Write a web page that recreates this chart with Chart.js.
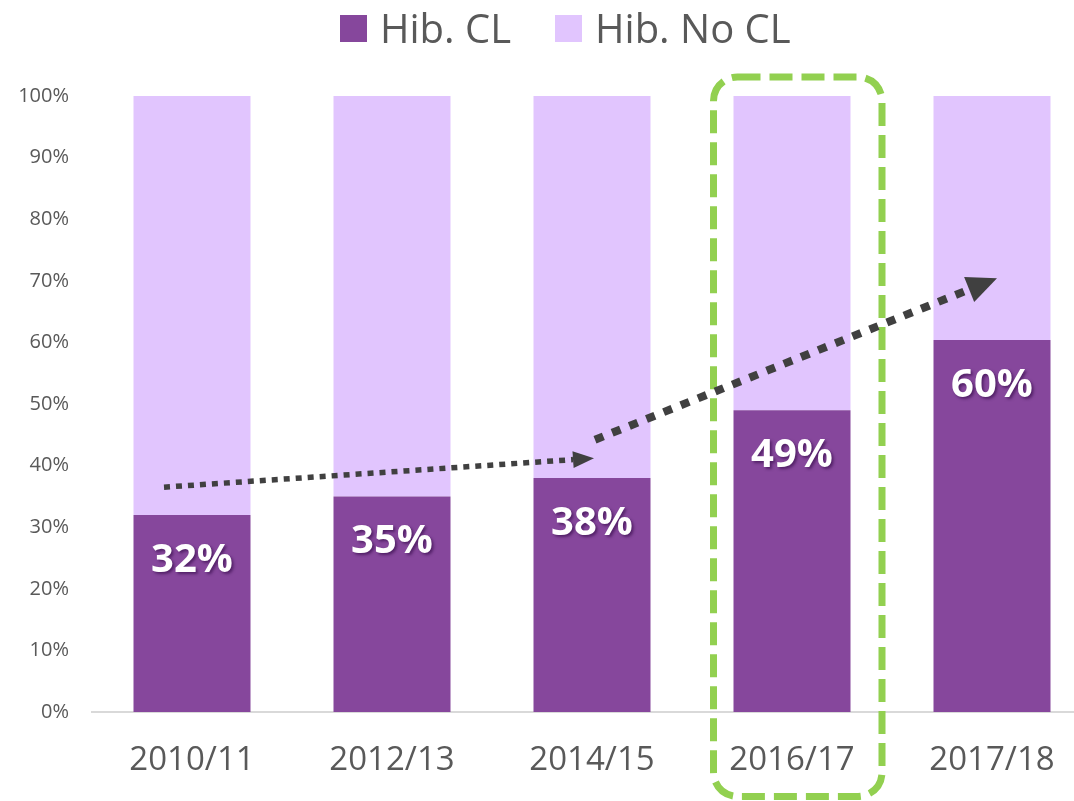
<!DOCTYPE html>
<html>
<head>
<meta charset="utf-8">
<script src="https://cdn.jsdelivr.net/npm/chart.js@4/dist/chart.umd.min.js"></script>
<style>
  html, body { margin: 0; padding: 0; background: #fff; overflow: hidden; }
  #wrap { position: relative; width: 1074px; height: 801px; overflow: hidden; }
  #legend {
    position: absolute; top: 8px; left: 340px; display: flex;
    font-family: 'Open Sans', sans-serif; font-size: 40px; line-height: 40px; color: #595959;
  }
  .item { display: flex; align-items: center; margin-right: 44px; white-space: nowrap; }
  .box { width: 27px; height: 27px; margin-right: 13px; }
</style>
</head>
<body>
<div id="wrap">
  <!-- the plot runs past the right edge in the original, so the canvas is wider than the page -->
  <canvas id="chart" width="1092" height="801"></canvas>
  <div id="legend"></div>
</div>
<script>
const years = ['2010/11', '2012/13', '2014/15', '2016/17', '2017/18'];
const hibCL = [32, 35, 38, 49, 60.4];
const hibNoCL = [68, 65, 62, 51, 39.6];
const yTickStep = 10;

// annotations, in category index / percent units
const trendArrows = [
  { from: [-0.14, 36.5], to: [2.01, 41.2], width: 5.5, dash: [6, 6], head: [21, 17] },
  { from: [2.015, 44.2], to: [4.025, 70.4], width: 8, dash: [9, 9.5], head: [30, 27] },
];
const highlight = { from: [2.6075, -13.7], to: [3.45, 103.1], radius: 24 };

const darkPurple = '#86479C';
const lightPurple = '#E1C5FE';
const textGrey = '#595959';

Chart.defaults.font.family = "'Open Sans', sans-serif";
Chart.defaults.color = textGrey;

const overlays = {
  id: 'overlays',
  afterDraw(chart) {
    const { ctx, scales: { x, y } } = chart;
    const px = p => [x.getPixelForValue(p[0]), y.getPixelForValue(p[1])];

    // value labels inside the dark bars
    const meta = chart.getDatasetMeta(0);
    ctx.save();
    ctx.font = "bold 40px 'Open Sans', sans-serif";
    ctx.fillStyle = '#fff';
    ctx.textAlign = 'center';
    ctx.textBaseline = 'alphabetic';
    ctx.shadowColor = 'rgba(40,0,60,0.55)';
    ctx.shadowOffsetX = 2;
    ctx.shadowOffsetY = 2;
    ctx.shadowBlur = 3;
    meta.data.forEach((bar, i) => {
      ctx.fillText(Math.round(hibCL[i]) + '%', bar.x, bar.y + 57);
    });
    ctx.restore();

    // green dashed highlight box
    const [x0, y1] = px(highlight.from);
    const [x1, y0] = px(highlight.to);
    ctx.save();
    ctx.strokeStyle = '#92D050';
    ctx.lineWidth = 7;
    ctx.setLineDash([23, 9]);
    ctx.beginPath();
    ctx.roundRect(x0, y0, x1 - x0, y1 - y0, highlight.radius);
    ctx.stroke();
    ctx.restore();

    // trend arrows
    trendArrows.forEach(a => {
      const [sx, sy] = px(a.from);
      const [tx, ty] = px(a.to);
      const ang = Math.atan2(ty - sy, tx - sx);
      const [hl, hw] = a.head;
      const bx = tx - Math.cos(ang) * hl;
      const by = ty - Math.sin(ang) * hl;
      ctx.save();
      ctx.strokeStyle = '#404040';
      ctx.fillStyle = '#404040';
      ctx.lineWidth = a.width;
      ctx.setLineDash(a.dash);
      ctx.beginPath();
      ctx.moveTo(sx, sy);
      ctx.lineTo(bx, by);
      ctx.stroke();
      ctx.setLineDash([]);
      ctx.beginPath();
      ctx.moveTo(tx, ty);
      ctx.lineTo(bx + Math.sin(ang) * hw / 2, by - Math.cos(ang) * hw / 2);
      ctx.lineTo(bx - Math.sin(ang) * hw / 2, by + Math.cos(ang) * hw / 2);
      ctx.closePath();
      ctx.fill();
      ctx.restore();
    });
  }
};

const chart = new Chart(document.getElementById('chart').getContext('2d'), {
  type: 'bar',
  data: {
    labels: years,
    datasets: [
      { label: 'Hib. CL', data: hibCL, backgroundColor: darkPurple },
      { label: 'Hib. No CL', data: hibNoCL, backgroundColor: lightPurple },
    ]
  },
  options: {
    responsive: false,
    animation: false,
    barPercentage: 0.585,
    categoryPercentage: 1,
    layout: { padding: { top: 96, right: 0, left: 0, bottom: 0 } },
    plugins: {
      legend: { display: false },   // own legend in HTML
      tooltip: { enabled: false }
    },
    scales: {
      x: {
        stacked: true,
        grid: { display: false, drawTicks: false },
        border: { display: true, color: '#D9D9D9', width: 2 },
        ticks: { font: { size: 33 }, color: textGrey, padding: 29 },
        afterFit: s => { s.height = 89; }
      },
      y: {
        stacked: true,
        min: 0,
        max: 100,
        grid: { display: false, drawTicks: false },
        border: { display: false },
        ticks: {
          stepSize: yTickStep,
          font: { size: 20 },
          color: textGrey,
          padding: 23,
          callback: v => v + '%'
        },
        afterFit: s => { s.width = 92; }
      }
    }
  },
  plugins: [overlays]
});

const legend = document.getElementById('legend');
chart.data.datasets.forEach(ds => {
  const item = document.createElement('div');
  item.className = 'item';
  item.innerHTML = `<span class="box" style="background:${ds.backgroundColor}"></span>${ds.label}`;
  legend.appendChild(item);
});
</script>
</body>
</html>
